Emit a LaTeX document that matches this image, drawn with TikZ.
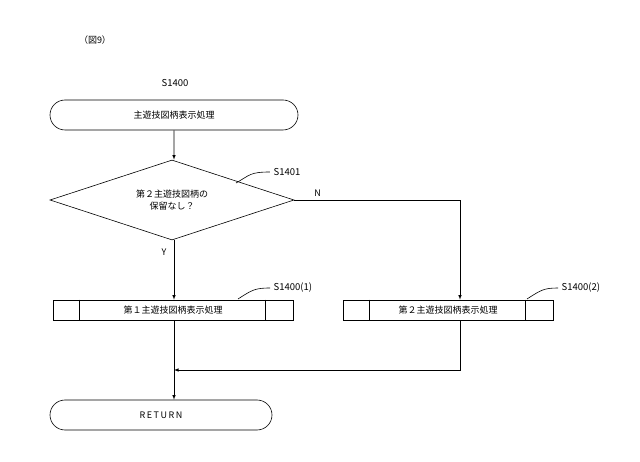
\documentclass[tikz,border=0pt]{standalone}
\usepackage{fontspec}
\setmainfont{Noto Sans CJK JP}
\usetikzlibrary{shapes.geometric,shapes.misc,arrows,positioning}

\begin{document}
\begin{tikzpicture}[%
      x=1pt,y=-1pt,
      >=latex,
      semithick,
      font=\fontsize{9}{12}\selectfont,
      ]
  \tikzset{
     term/.style={draw,rounded rectangle,minimum height=30pt,inner sep=0pt},
     proc/.style={draw,rectangle,minimum height=20pt,inner sep=0pt},
     test/.style={draw,diamond,aspect=3.05,minimum width=244pt,minimum height=80pt,inner sep=0pt,align=center},
     lbl/.style={font=\fontsize{9.5}{11}\selectfont}}
 \useasboundingbox (0,0) rectangle (640,462);
 \node at (95,40) (fig) {（図9）};

 \node [lbl] at (175,83) (s0) {S1400};
 \node [term,minimum width=248pt] at (174,115) (start) {主遊技図柄表示処理};
 \node [test] at (172,200) (t1) {第２主遊技図柄の\\保留なし？};
 \node [lbl] at (287,172) (s1) {S1401};

 \node [proc,minimum width=240pt] at (173,310) (p1) {第１主遊技図柄表示処理};
 \node [lbl,anchor=west] at (270,288) (s2) {S1400(1)};
 \node [proc,minimum width=210pt] at (448,310) (p2) {第２主遊技図柄表示処理};
 \node [lbl,anchor=west] at (558,288) (s3) {S1400(2)};

 \node [term,minimum width=222pt] at (161,415) (ret) {R\,E\,T\,U\,R\,N};
 \coordinate (j) at (174,370);

 % double side lines
 \draw ([xshift=27pt]p1.north west) -- ([xshift=27pt]p1.south west);
 \draw ([xshift=-28pt]p1.north east) -- ([xshift=-28pt]p1.south east);
 \draw ([xshift=27pt]p2.north west) -- ([xshift=27pt]p2.south west);
 \draw ([xshift=-28pt]p2.north east) -- ([xshift=-28pt]p2.south east);

 % leaders
 \draw (236,183) .. controls (250,175) and (250,172) .. (s1.west);
 \draw (238,299) .. controls (252,290) and (255,288) .. (s2.west);
 \draw (527,299) .. controls (541,290) and (544,288) .. (s3.west);

 \draw[->] (start) -- (t1.north-|start);
 \draw[->] (t1.south-|start) -- node[pos=0.2,left=4pt]{Y} (p1.north-|start);
 \draw[->] (t1.east) -| node[pos=0.07,above]{N} (p2.north-|460,0);
 \draw[->] (p2.south-|460,0) |- (j);
 \draw[->] (p1.south-|start) -- (ret.north-|start);
 \end{tikzpicture}
\end{document}
